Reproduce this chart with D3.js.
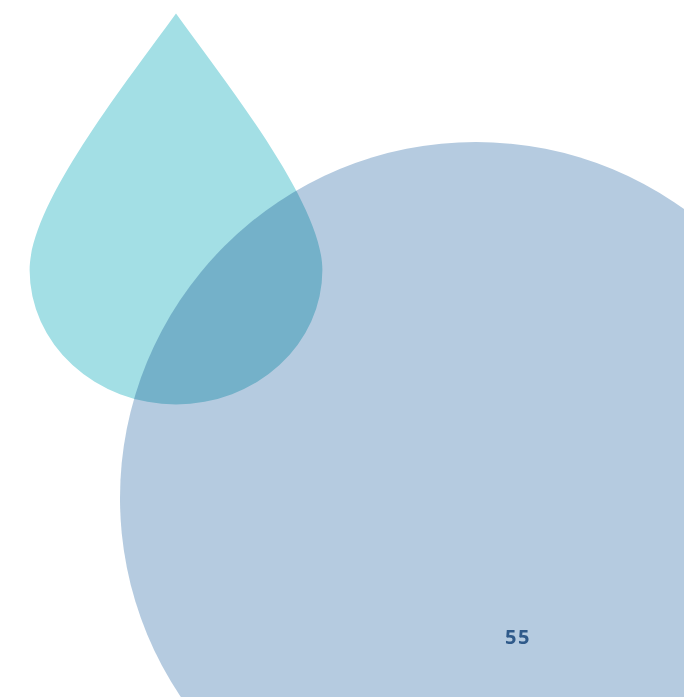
<!DOCTYPE html>
<meta charset="utf-8">
<style>

body {
  margin: 0;
  background: #fff;
}

.shape {
  mix-blend-mode: multiply;
}

.label {
  font-family: "Open Sans", sans-serif;
  font-size: 20px;
  font-weight: 700;
  letter-spacing: 1.5px;
  fill: #2f5a8a;
  text-anchor: middle;
}

</style>
<body>
<script src="https://d3js.org/d3.v7.min.js"></script>
<script>

// data
var shapes = ["drop", "circle"];
var values = [9.3, 55];
var labels = ["", "55"];
var colors = ["#a3dfe5", "#b5cbe0"];

var width = 684,
    height = 697;

// where each symbol sits (drop: widest point, circle: centre)
var cx = [176, 476],
    cy = [270, 498];

var r = d3.scaleSqrt()
    .domain([0, 55])
    .range([0, 356]);

var svg = d3.select("body").append("svg")
    .attr("width", width)
    .attr("height", height);

// teardrop outline, scaled by radius
function dropPath(rad) {
  var tip = -1.753 * rad;
  return "M0," + tip +
    "C" + (0.377 * rad) + "," + (-1.233 * rad) + " " + rad + "," + (-0.445 * rad) + " " + rad + ",0" +
    "A" + rad + "," + (0.918 * rad) + " 0 0 1 " + (-rad) + ",0" +
    "C" + (-rad) + "," + (-0.445 * rad) + " " + (-0.377 * rad) + "," + (-1.233 * rad) + " 0," + tip + "Z";
}

var data = shapes.map(function(s, i) {
  return {shape: s, value: values[i], label: labels[i], color: colors[i], x: cx[i], y: cy[i]};
});

var g = svg.selectAll(".sym")
    .data(data)
  .enter().append("g")
    .attr("class", "sym")
    .attr("transform", function(d) { return "translate(" + d.x + "," + d.y + ")"; });

g.filter(function(d) { return d.shape === "drop"; })
  .append("path")
    .attr("class", "shape")
    .attr("d", function(d) { return dropPath(r(d.value)); })
    .style("fill", function(d) { return d.color; });

g.filter(function(d) { return d.shape === "circle"; })
  .append("circle")
    .attr("class", "shape")
    .attr("r", function(d) { return r(d.value); })
    .style("fill", function(d) { return d.color; });

// value label, sits low-right inside the circle
g.append("text")
    .attr("class", "label")
    .attr("x", function(d) { return r(d.value) * 0.115 + 1; })
    .attr("y", function(d) { return r(d.value) * 0.39 + 7; })
    .text(function(d) { return d.label; });

</script>
